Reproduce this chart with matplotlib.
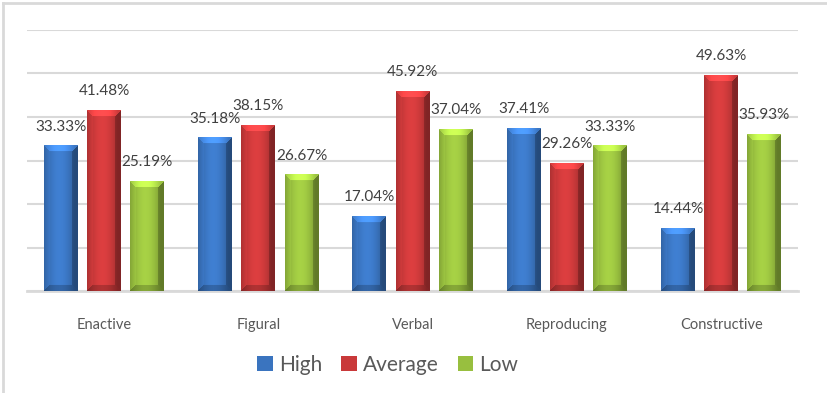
import numpy as np
import matplotlib
matplotlib.use("Agg")
import matplotlib.pyplot as plt
from matplotlib.patches import Patch
from matplotlib.lines import Line2D
from matplotlib.colors import to_rgb

categories = ["Enactive", "Figural", "Verbal", "Reproducing", "Constructive"]
series_names = ["High", "Average", "Low"]
high = [33.33, 35.18, 17.04, 37.41, 14.44]
average = [41.48, 38.15, 45.92, 29.26, 49.63]
low = [25.19, 26.67, 37.04, 33.33, 35.93]
series_values = [high, average, low]
colors = ["#3a74bf", "#c9393a", "#98bf3f"]

plt.rcParams["font.family"] = ["Lato", "DejaVu Sans"]
text_color = "#595959"

fig = plt.figure(figsize=(8.27, 3.93), dpi=100)
ax = fig.add_axes([0.0326, 0.2595, 0.9327, 0.6642])
ax.set_xlim(-0.5, len(categories) - 0.5)
ax.set_ylim(0, 60)

# page border (left and top)
fig.add_artist(Line2D([0.004, 0.004], [0, 0.993], color="#d9d9d9", lw=2, transform=fig.transFigure))
fig.add_artist(Line2D([0.004, 1], [0.993, 0.993], color="#d9d9d9", lw=2, transform=fig.transFigure))

ax.set_yticks(np.arange(0, 61, 10))
ax.yaxis.grid(True, color="#d9d9d9", lw=1.5, zorder=0)
ax.set_axisbelow(True)
for s in ["left", "right", "top"]:
    ax.spines[s].set_visible(False)
ax.spines["bottom"].set_color("#d9d9d9")
ax.spines["bottom"].set_linewidth(2)
ax.tick_params(axis="y", left=False, labelleft=False)
ax.tick_params(axis="x", bottom=False, pad=16, labelsize=10.5, labelcolor=text_color)
ax.set_xticks(range(len(categories)))
ax.set_xticklabels(categories)

bar_w = 0.22
pitch = 0.28
x = np.arange(len(categories))


def bevel_image(color, w, h, d=6):
    base = np.array(to_rgb(color))
    xs = np.arange(w)[None, :] + 0.5
    ys = np.arange(h)[:, None] + 0.5
    xs = np.broadcast_to(xs, (h, w))
    ys = np.broadcast_to(ys, (h, w))
    t = xs / w
    shade = 0.82 + 0.28 * np.sin(np.pi * np.clip(t * 1.1, 0, 1))
    dt, db, dl, dr = ys, h - ys, xs, w - xs
    dist = np.stack([dt, db, dl, dr])
    idx = np.argmin(dist, axis=0)
    mind = np.min(dist, axis=0)
    facet = mind < d
    adj = np.array([1.25, 0.8, 1.05, 0.78])
    shade = np.where(facet, shade * adj[idx], shade)
    img = np.clip(base[None, None, :] * shade[..., None], 0, 1)
    return img


fig.canvas.draw()
for i, (vals, col) in enumerate(zip(series_values, colors)):
    pos = x + (i - 1) * pitch
    bars = ax.bar(pos, vals, width=bar_w, color=col, edgecolor="none", zorder=2)
    for b, v in zip(bars, vals):
        x0, x1 = b.get_x(), b.get_x() + b.get_width()
        p0 = ax.transData.transform((x0, 0))
        p1 = ax.transData.transform((x1, v))
        w_px = max(int(round(p1[0] - p0[0])), 2)
        h_px = max(int(round(p1[1] - p0[1])), 2)
        img = bevel_image(col, w_px, h_px)
        ax.imshow(img, extent=(x0, x1, 0, v), aspect="auto", zorder=3,
                  interpolation="bilinear", origin="upper")
        ax.annotate(f"{v:.2f}%", (b.get_x() + b.get_width() / 2, v),
                    xytext=(0, 14), textcoords="offset points",
                    ha="center", va="center", fontsize=11, color="#404040", zorder=4)

ax.set_xlim(-0.5, len(categories) - 0.5)
ax.set_ylim(0, 60)

handles = [Patch(facecolor=c, edgecolor="none") for c in colors]
fig.legend(handles, series_names, loc="center", bbox_to_anchor=(0.469, 0.071),
           ncol=3, frameon=False, fontsize=15, labelcolor=text_color,
           handlelength=0.75, handleheight=0.75, handletextpad=0.3, columnspacing=0.9)

fig.savefig("out.png", dpi=100)
